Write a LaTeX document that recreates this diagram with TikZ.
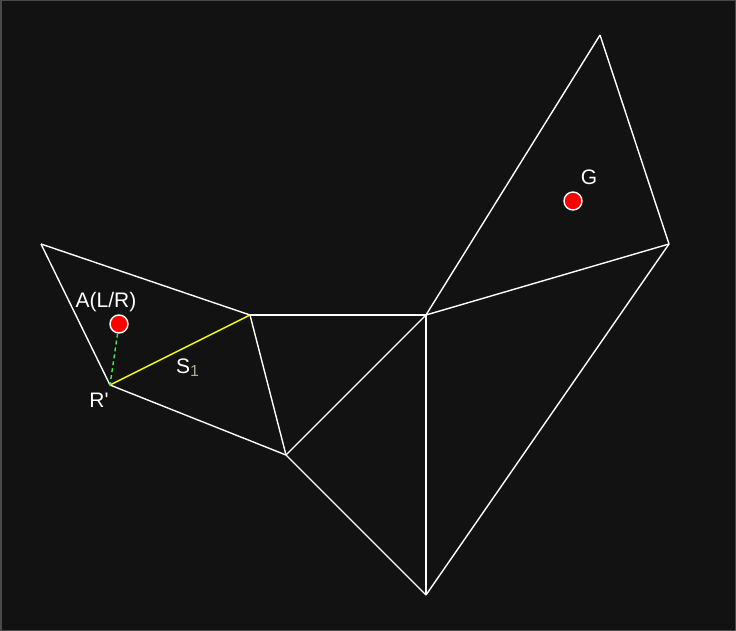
\documentclass[tikz,border=0pt]{standalone}
\usepackage{fontspec}
\setmainfont{Liberation Sans}
\definecolor{bg}{HTML}{121212}
\definecolor{frame}{HTML}{4A4A4A}
\definecolor{seg}{HTML}{FFFF00}
\definecolor{guide}{HTML}{44EE44}
\definecolor{subc}{HTML}{B0A898}
\begin{document}
\begin{tikzpicture}[x=1pt,y=-1pt,
  edge/.style={draw=white,line width=1.4pt,line join=round},
  dot/.style={circle,fill=red,draw=white,line width=1.4pt,minimum size=18pt,inner sep=0pt},
  lbl/.style={text=white,font=\fontsize{21}{21}\selectfont,inner sep=0pt}]
\fill[bg] (0,0) rectangle (736,631);
\draw[frame,line width=1.5pt] (0.75,0.75) rectangle (735.25,630.25);
\useasboundingbox (0,0) rectangle (736,631);
\coordinate (p1) at (41,244);
\coordinate (p2) at (250,315);
\coordinate (r) at (110,385);
\coordinate (p3) at (286,455);
\coordinate (p4) at (426,315);
\coordinate (p5) at (426,595);
\coordinate (p6) at (600,35);
\coordinate (p7) at (669,244);
\draw[edge] (p1) -- (p2);
\draw[edge] (p1) -- (r);
\draw[edge] (r) -- (p3);
\draw[edge] (p2) -- (p3);
\draw[edge] (p2) -- (p4);
\draw[edge] (p3) -- (p4);
\draw[edge] (p3) -- (p5);
\draw[edge] (p4) -- (p5);
\draw[edge] (p4) -- (p6);
\draw[edge] (p6) -- (p7);
\draw[edge] (p4) -- (p7);
\draw[edge] (p7) -- (p5);
\draw[seg,line width=1.4pt] (r) -- (p2);
\node[dot] (a) at (119,324) {};
\node[dot] (g) at (573,201) {};
\draw[guide,line width=1.4pt,dash pattern=on 4pt off 3pt] (a) -- (r);
\node[lbl] (la) at (106,302) {A(L/R)};
\node[lbl] (lg) at (589,177) {G};
\node[lbl] (lr) at (99,400) {R\textquotesingle};
\node[lbl,anchor=base west] (ls) at (176,373) {S\raisebox{-0.35ex}{\textcolor{subc}{\fontsize{16}{16}\selectfont 1}}};
\end{tikzpicture}
\end{document}
